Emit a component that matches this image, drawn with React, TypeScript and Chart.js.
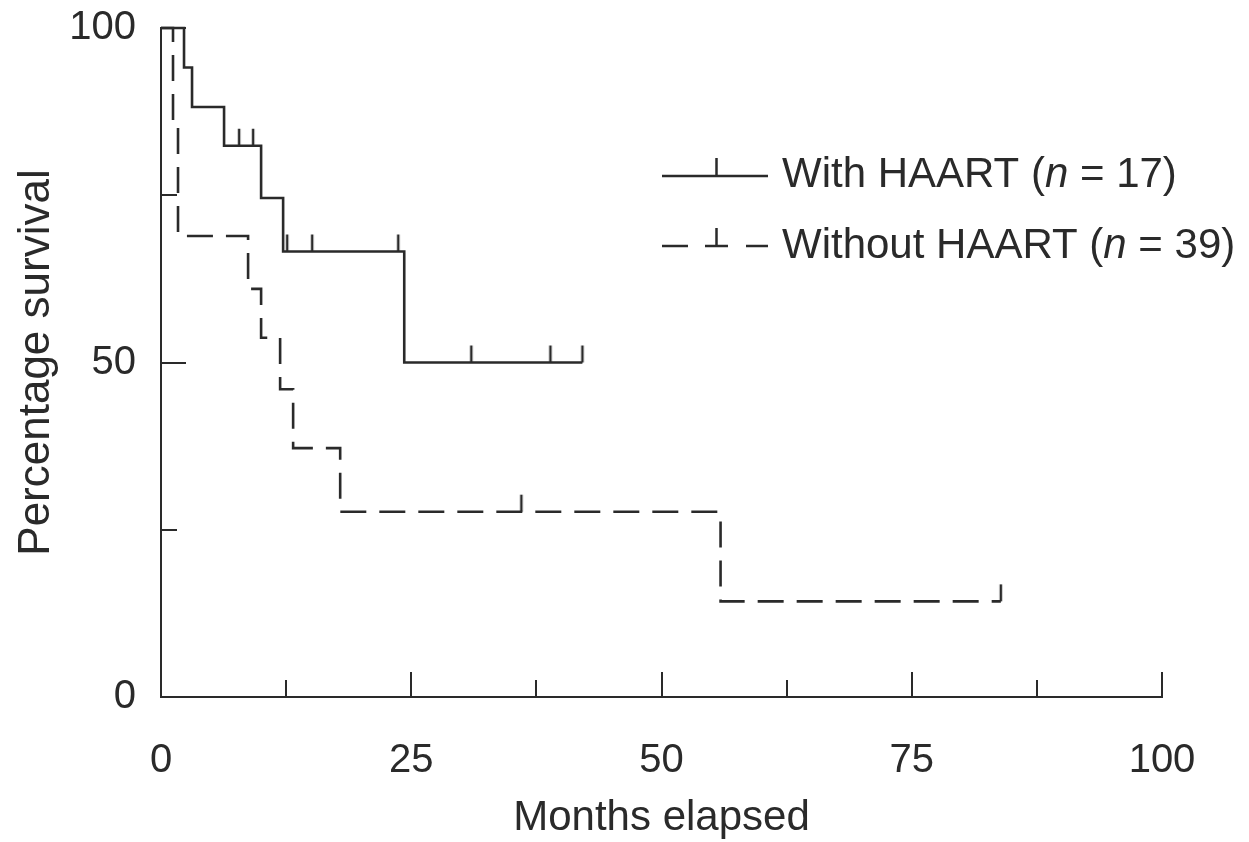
import React, { useEffect, useRef } from 'react';
import { Chart, registerables } from 'chart.js';

Chart.register(...registerables);

// ---- data ----
const withTimes = [0, 2.3, 3.1, 6.3, 10.0, 12.2, 24.3, 42.1];
const withSurvival = [100, 94.1, 88.2, 82.4, 74.6, 66.6, 50, 50];
const withCensorTimes = [7.8, 9.2, 12.6, 15.1, 23.7, 31.0, 38.9, 42.1];
const withCensorSurvival = [82.4, 82.4, 66.6, 66.6, 66.6, 50, 50, 50];

const withoutTimes = [0, 1.2, 1.7, 8.7, 10.0, 11.9, 13.2, 17.9, 55.9, 83.9];
const withoutSurvival = [100, 85.2, 68.9, 61.0, 53.7, 46.0, 37.2, 27.7, 14.3, 14.3];
const withoutCensorTimes = [36.0, 83.9];
const withoutCensorSurvival = [27.7, 14.3];

const xTickValues = [0, 12.5, 25, 37.5, 50, 62.5, 75, 87.5, 100];
const xLabelValues = [0, 25, 50, 75, 100];
const yTickValues = [0, 25, 50, 75, 100];
const yLabelValues = [0, 50, 100];

const legendLabels = ['With HAART', 'Without HAART'];
const legendCounts = [17, 39];

const xTitle = 'Months elapsed';
const yTitle = 'Percentage survival';

const INK = '#2a2a2a';
const FAMILY = '"Liberation Sans", Arial, Helvetica, sans-serif';

function makeCensorMark(): HTMLCanvasElement {
  const c = document.createElement('canvas');
  c.width = 6;
  c.height = 36;
  const g = c.getContext('2d')!;
  g.strokeStyle = INK;
  g.lineWidth = 2.5;
  g.beginPath();
  g.moveTo(3, 1);
  g.lineTo(3, 18);
  g.stroke();
  return c;
}

const inwardTicks = {
  id: 'inwardTicks',
  afterDraw(chart: any) {
    const { ctx, chartArea, scales } = chart;
    const xs = scales.x;
    const ys = scales.y;
    ctx.save();
    ctx.strokeStyle = INK;
    ctx.lineWidth = 2;
    xs.ticks.forEach((t: any) => {
      if (t.value === 0) return;
      const px = Math.round(xs.getPixelForValue(t.value));
      const len = xLabelValues.includes(t.value) ? 25 : 17;
      ctx.beginPath();
      ctx.moveTo(px, chartArea.bottom);
      ctx.lineTo(px, chartArea.bottom - len);
      ctx.stroke();
    });
    ys.ticks.forEach((t: any) => {
      if (t.value === 0) return;
      const py = Math.round(ys.getPixelForValue(t.value));
      const len = yLabelValues.includes(t.value) ? 25 : 16;
      ctx.beginPath();
      ctx.moveTo(chartArea.left, py);
      ctx.lineTo(chartArea.left + len, py);
      ctx.stroke();
    });
    ctx.restore();
  },
};

const kmLegend = {
  id: 'kmLegend',
  afterDraw(chart: any) {
    const ctx = chart.ctx;
    const rows = [
      { lineY: 176, baseline: 187, dashed: false },
      { lineY: 246, baseline: 258, dashed: true },
    ];
    ctx.save();
    ctx.strokeStyle = INK;
    ctx.fillStyle = INK;
    ctx.lineWidth = 2.5;
    rows.forEach((r, i) => {
      if (r.dashed) {
        [[662, 688], [705, 728], [746, 768]].forEach(([a, b]) => {
          ctx.beginPath();
          ctx.moveTo(a, r.lineY);
          ctx.lineTo(b, r.lineY);
          ctx.stroke();
        });
      } else {
        ctx.beginPath();
        ctx.moveTo(662, r.lineY);
        ctx.lineTo(768, r.lineY);
        ctx.stroke();
      }
      ctx.beginPath();
      ctx.moveTo(716.5, r.lineY);
      ctx.lineTo(716.5, r.lineY - 18);
      ctx.stroke();

      let x = 782;
      ctx.textBaseline = 'alphabetic';
      ctx.textAlign = 'left';
      ctx.font = `42px ${FAMILY}`;
      const p1 = legendLabels[i] + ' (';
      ctx.fillText(p1, x, r.baseline);
      x += ctx.measureText(p1).width;
      ctx.font = `italic 42px ${FAMILY}`;
      ctx.fillText('n', x, r.baseline);
      x += ctx.measureText('n').width;
      ctx.font = `42px ${FAMILY}`;
      ctx.fillText(` = ${legendCounts[i]})`, x, r.baseline);
    });
    ctx.restore();
  },
};

export default function App() {
  const ref = useRef<HTMLCanvasElement | null>(null);

  useEffect(() => {
    if (!ref.current) return;
    const mark = makeCensorMark();
    const chart = new Chart(ref.current, {
      type: 'line',
      data: {
        datasets: [
          {
            label: legendLabels[0],
            data: withTimes.map((t, i) => ({ x: t, y: withSurvival[i] })),
            stepped: true,
            borderColor: INK,
            borderWidth: 2.6,
            pointRadius: 0,
            fill: false,
            clip: false as any,
          },
          {
            label: legendLabels[0] + ' censored',
            data: withCensorTimes.map((t, i) => ({ x: t, y: withCensorSurvival[i] })),
            showLine: false,
            pointStyle: mark as any,
            pointRadius: 3,
            borderColor: INK,
            clip: false as any,
          },
          {
            label: legendLabels[1],
            data: withoutTimes.map((t, i) => ({ x: t, y: withoutSurvival[i] })),
            stepped: true,
            borderColor: INK,
            borderWidth: 2.6,
            borderDash: [26, 13],
            pointRadius: 0,
            fill: false,
            clip: false as any,
          },
          {
            label: legendLabels[1] + ' censored',
            data: withoutCensorTimes.map((t, i) => ({ x: t, y: withoutCensorSurvival[i] })),
            showLine: false,
            pointStyle: mark as any,
            pointRadius: 3,
            borderColor: INK,
            clip: false as any,
          },
        ],
      },
      options: {
        responsive: false,
        animation: false,
        layout: { padding: { top: 28, right: 87, left: 0, bottom: 0 } },
        plugins: { legend: { display: false }, tooltip: { enabled: false } },
        scales: {
          x: {
            type: 'linear',
            min: 0,
            max: 100,
            afterFit: (s: any) => {
              s.height = 145;
              s.paddingLeft = 0;
              s.paddingRight = 0;
            },
            afterBuildTicks: (s: any) => {
              s.ticks = xTickValues.map((v) => ({ value: v }));
            },
            ticks: {
              autoSkip: false,
              maxRotation: 0,
              padding: 40,
              color: INK,
              font: { family: FAMILY, size: 40 },
              callback: (v: any) => (xLabelValues.includes(Number(v)) ? String(v) : ''),
            },
            grid: { display: true, drawOnChartArea: false, drawTicks: false },
            border: { display: true, color: INK, width: 2 },
            title: {
              display: true,
              text: xTitle,
              color: INK,
              padding: 0,
              font: { family: FAMILY, size: 42, lineHeight: 1.1 },
            },
          },
          y: {
            type: 'linear',
            min: 0,
            max: 100,
            afterFit: (s: any) => {
              s.width = 161;
              s.paddingTop = 0;
              s.paddingBottom = 0;
            },
            afterBuildTicks: (s: any) => {
              s.ticks = yTickValues.map((v) => ({ value: v }));
            },
            ticks: {
              autoSkip: false,
              padding: 25,
              color: INK,
              font: { family: FAMILY, size: 40 },
              callback: (v: any) => (yLabelValues.includes(Number(v)) ? String(v) : ''),
            },
            grid: { display: true, drawOnChartArea: false, drawTicks: false },
            border: { display: true, color: INK, width: 2 },
            title: {
              display: true,
              text: yTitle,
              color: INK,
              padding: { top: 10, bottom: 0 },
              font: { family: FAMILY, size: 44, lineHeight: 1.2 },
            },
          },
        },
      },
      plugins: [inwardTicks, kmLegend],
    });
    return () => chart.destroy();
  }, []);

  return (
    <div style={{ position: 'fixed', left: 0, top: 0, width: 1249, height: 842, background: '#fff' }}>
      <canvas ref={ref} width={1249} height={842} style={{ display: 'block' }} />
    </div>
  );
}
